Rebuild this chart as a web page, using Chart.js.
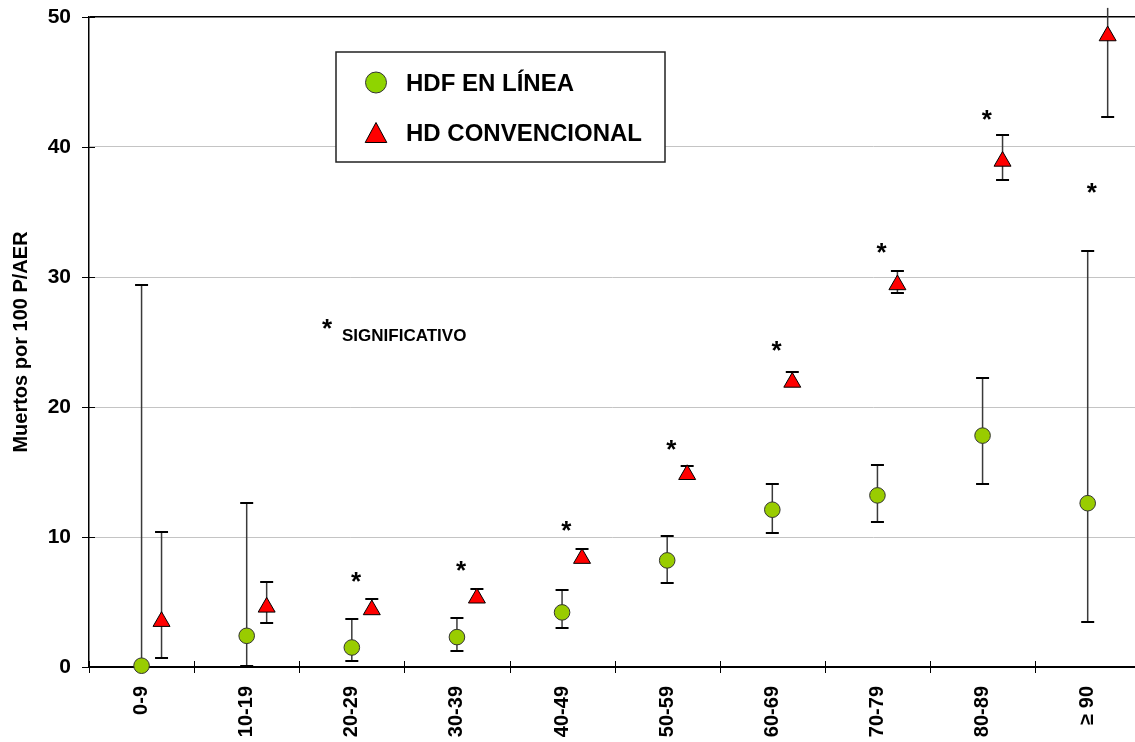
<!DOCTYPE html>
<html>
<head>
<meta charset="utf-8">
<script src="https://cdn.jsdelivr.net/npm/chart.js@4.4.1/dist/chart.umd.min.js"></script>
<style>
  html, body { margin: 0; padding: 0; background: #fff; }
  #wrap { width: 1135px; height: 742px; position: relative; }
</style>
</head>
<body>
<div id="wrap"><canvas id="grafico"></canvas></div>
<script>
// ---------------- datos ----------------
const CATEGORIAS = ["0-9", "10-19", "20-29", "30-39", "40-49", "50-59", "60-69", "70-79", "80-89", "≥ 90"];

// HDF en línea (círculos) con límites del intervalo
const HDF = [0.1, 2.4, 1.5, 2.3, 4.2, 8.2, 12.1, 13.2, 17.8, 12.6];
const HDF_ALTO = [29.4, 12.6, 3.7, 3.8, 5.9, 10.1, 14.05, 15.5, 22.25, 32.0];
const HDF_BAJO = [null, 0.1, 0.5, 1.2, 3.0, 6.5, 10.3, 11.15, 14.05, 3.45];

// HD convencional (triángulos)
const HD = [3.5, 4.6, 4.4, 5.3, 8.35, 14.8, 21.9, 29.4, 38.9, 48.55];
const HD_ALTO = [10.4, 6.55, 5.25, 6.0, 9.05, 15.45, 22.7, 30.45, 40.9, 50.7];
const HD_BAJO = [0.7, 3.4, null, null, null, null, null, 28.75, 37.5, 42.3];

// altura de los asteriscos de significación
const SIGNIF = [null, null, 6.85, 7.7, 10.8, 17.0, 24.6, 32.2, 42.4, 36.8];

const Y_TICKS = [0, 10, 20, 30, 40, 50];

const FONT = "'Liberation Sans', Arial, sans-serif";
const VERDE = "#99cc00";
const ROJO = "#ff0000";

const ptsHdf = CATEGORIAS.map((_, i) => ({ x: i + 0.5, y: HDF[i] }));
const ptsHd = CATEGORIAS.map((_, i) => ({ x: i + 0.69, y: HD[i] }));

// ---------------- barras de error ----------------
const errorBars = {
  id: "errorBars",
  beforeDatasetsDraw(chart) {
    const { ctx, scales: { x, y } } = chart;
    const series = [
      { off: 0.5, val: HDF, hi: HDF_ALTO, lo: HDF_BAJO },
      { off: 0.69, val: HD, hi: HD_ALTO, lo: HD_BAJO },
    ];
    ctx.save();
    series.forEach((s) => {
      s.val.forEach((v, i) => {
        const px = x.getPixelForValue(i + s.off);
        const top = s.hi[i] != null ? s.hi[i] : v;
        const bot = s.lo[i] != null ? s.lo[i] : v;
        ctx.strokeStyle = "#3a3a3a";
        ctx.lineWidth = 1.5;
        ctx.beginPath();
        ctx.moveTo(px, y.getPixelForValue(top));
        ctx.lineTo(px, y.getPixelForValue(bot));
        ctx.stroke();
        ctx.strokeStyle = "#000";
        ctx.lineWidth = 2;
        if (s.hi[i] != null && s.hi[i] <= 50) {
          const py = Math.round(y.getPixelForValue(s.hi[i]));
          ctx.beginPath(); ctx.moveTo(px - 6.5, py); ctx.lineTo(px + 6.5, py); ctx.stroke();
        }
        if (s.lo[i] != null) {
          const py = Math.round(y.getPixelForValue(s.lo[i]));
          ctx.beginPath(); ctx.moveTo(px - 6.5, py); ctx.lineTo(px + 6.5, py); ctx.stroke();
        }
      });
    });
    ctx.restore();
  },
};

// ---------------- marcas de eje, asteriscos, leyenda ----------------
const extras = {
  id: "extras",
  afterDraw(chart) {
    const { ctx, chartArea: a, scales: { x, y } } = chart;
    ctx.save();

    // marcas de eje que cruzan la línea
    ctx.strokeStyle = "#000";
    ctx.lineWidth = 1;
    Y_TICKS.forEach((t) => {
      const py = Math.round(y.getPixelForValue(t)) + 0.5;
      ctx.beginPath(); ctx.moveTo(a.left - 7, py); ctx.lineTo(a.left + 6, py); ctx.stroke();
    });
    for (let i = 0; i < CATEGORIAS.length; i++) {
      const px = Math.round(x.getPixelForValue(i)) + 0.5;
      ctx.beginPath(); ctx.moveTo(px, a.bottom - 6); ctx.lineTo(px, a.bottom + 6); ctx.stroke();
    }

    // asteriscos
    ctx.fillStyle = "#000";
    ctx.font = `bold 26px ${FONT}`;
    ctx.textAlign = "center";
    ctx.textBaseline = "middle";
    SIGNIF.forEach((v, i) => {
      if (v == null) return;
      ctx.fillText("*", x.getPixelForValue(i + 0.54), y.getPixelForValue(v) + 5);
    });

    // nota "* SIGNIFICATIVO"
    ctx.fillText("*", 327, 330);
    ctx.textAlign = "left";
    ctx.font = `bold 17px ${FONT}`;
    ctx.fillText("SIGNIFICATIVO", 342, 336);

    // leyenda
    ctx.fillStyle = "#fff";
    ctx.fillRect(336, 52, 329, 110);
    ctx.strokeStyle = "#222";
    ctx.lineWidth = 1.5;
    ctx.strokeRect(336, 52, 329, 110);

    ctx.beginPath();
    ctx.arc(376, 82.5, 10.5, 0, Math.PI * 2);
    ctx.fillStyle = "#8fd400";
    ctx.fill();
    ctx.lineWidth = 1;
    ctx.strokeStyle = "#333";
    ctx.stroke();

    ctx.beginPath();
    ctx.moveTo(376, 122.5);
    ctx.lineTo(386.8, 142.5);
    ctx.lineTo(365.2, 142.5);
    ctx.closePath();
    ctx.fillStyle = ROJO;
    ctx.fill();
    ctx.strokeStyle = "#000";
    ctx.stroke();

    ctx.fillStyle = "#000";
    ctx.font = `bold 24px ${FONT}`;
    ctx.textAlign = "left";
    ctx.textBaseline = "middle";
    ctx.fillText("HDF EN LÍNEA", 406, 84);
    ctx.fillText("HD CONVENCIONAL", 406, 134);

    ctx.restore();
  },
};

new Chart(document.getElementById("grafico"), {
  type: "scatter",
  data: {
    datasets: [
      {
        label: "HDF EN LÍNEA",
        data: ptsHdf,
        pointStyle: "circle",
        pointRadius: 7.8,
        pointBackgroundColor: VERDE,
        pointBorderColor: "#333",
        pointBorderWidth: 1,
        clip: false,
      },
      {
        label: "HD CONVENCIONAL",
        data: ptsHd,
        pointStyle: "triangle",
        pointRadius: 9.8,
        pointBackgroundColor: ROJO,
        pointBorderColor: "#000",
        pointBorderWidth: 1,
        clip: false,
      },
    ],
  },
  options: {
    responsive: true,
    maintainAspectRatio: false,
    animation: false,
    layout: { autoPadding: false, padding: { top: 17, right: 0, bottom: 0, left: 0 } },
    plugins: {
      legend: { display: false },
      tooltip: { enabled: false },
    },
    scales: {
      x: {
        type: "linear",
        min: 0,
        max: 9.95,
        afterBuildTicks: (s) => {
          const t = [];
          for (let i = 0; i < CATEGORIAS.length; i++) t.push({ value: i }, { value: i + 0.5 });
          s.ticks = t;
        },
        afterFit: (s) => {
          s.height = 75;
          s.paddingLeft = 0;
          s.paddingRight = 0;
        },
        grid: { display: false, drawTicks: false },
        border: { display: true, color: "#000", width: 2 },
        ticks: {
          autoSkip: false,
          minRotation: 90,
          maxRotation: 90,
          padding: 19,
          color: "#000",
          font: { family: FONT, size: 20, weight: "bold" },
          callback: (v) => {
            const i = v - 0.5;
            return Number.isInteger(i) ? CATEGORIAS[i] : "";
          },
        },
      },
      y: {
        min: 0,
        max: 50,
        afterFit: (s) => {
          s.width = 89;
          s.paddingTop = 0;
          s.paddingBottom = 0;
        },
        grid: {
          drawTicks: false,
          color: (c) => (c.tick.value === 50 ? "#000" : c.tick.value === 0 ? "rgba(0,0,0,0)" : "#c4c4c4"),
          lineWidth: (c) => (c.tick.value === 50 ? 1.5 : 1),
        },
        border: { display: true, color: "#000", width: 1.5 },
        ticks: {
          stepSize: 10,
          padding: 18,
          color: "#000",
          font: { family: FONT, size: 21, weight: "bold" },
        },
        title: {
          display: true,
          text: "Muertos por 100 P/AER",
          color: "#000",
          padding: { top: 9, bottom: 0 },
          font: { family: FONT, size: 20, weight: "bold" },
        },
      },
    },
  },
  plugins: [errorBars, extras],
});
</script>
</body>
</html>
